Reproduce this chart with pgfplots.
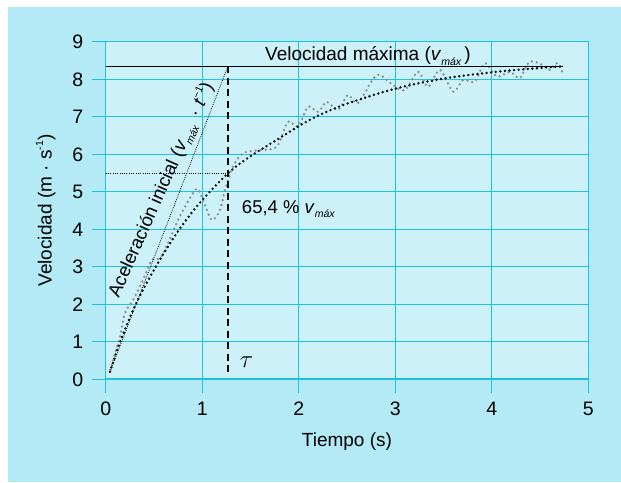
\documentclass[border=0pt]{standalone}
\usepackage{pgfplots}
\pgfplotsset{compat=1.18}
\usepackage{fontspec}
\setmainfont{Liberation Sans}
\definecolor{outerbg}{RGB}{179,234,246}
\definecolor{panel}{RGB}{205,241,249}
\definecolor{gridc}{RGB}{30,192,228}
\definecolor{meas}{RGB}{140,140,140}
\newcommand{\subr}[1]{\raisebox{-0.45ex}{\fontsize{10.5}{10.5}\selectfont\itshape #1}}
\newcommand{\supr}[1]{\raisebox{0.85ex}{\fontsize{10.5}{10.5}\selectfont #1}}
\begin{document}
\begin{tikzpicture}
\fill[white] (-105.7pt,-102.7pt) rectangle (515.3pt,379.3pt);
\fill[outerbg] (-97.7pt,-102.7pt) rectangle (515.3pt,372.3pt);
\begin{axis}[
  anchor=origin, at={(0pt,0pt)},
  x=96.5pt, y=37.5pt,
  xmin=0, xmax=5, ymin=0, ymax=9,
  xtick={0,1,2,3,4,5}, ytick={0,1,2,3,4,5,6,7,8,9},
  xtick pos=bottom, ytick pos=left,
  tick align=outside, major tick length=14pt,
  axis background/.style={fill=panel},
  grid=major,
  grid style={gridc, line width=1.2pt},
  axis line style={gridc, line width=1.2pt},
  tick style={gridc, line width=1.2pt},
  /pgf/number format/assume math mode=true,
  tick label style={font=\fontsize{19.5}{19.5}\selectfont},
  xticklabel style={yshift=-5pt},
  yticklabel style={xshift=-5pt},
  clip=false,
]
\draw[gridc, line width=2.2pt] (axis cs:0,0) -- (axis cs:5,0);
% measured data (grey)
\addplot[meas, line width=2.6pt, line cap=round, dash pattern=on 0pt off 5pt, smooth, tension=0.5] coordinates {
(0.045,0.25) (0.148,1.14) (0.2,1.77) (0.283,2.11) (0.387,2.65) (0.477,3.18) (0.563,3.23) (0.646,3.63) (0.736,4.17) (0.822,4.6) (0.943,5.08) (1.008,4.78) (1.098,4.25) (1.184,4.51) (1.236,5.05) (1.319,5.67) (1.423,6.03) (1.6,6.11) (1.772,6.2) (1.889,6.87) (1.993,6.74) (2.097,7.27) (2.2,7.13) (2.29,7.4) (2.407,7.18) (2.51,7.58) (2.615,7.37) (2.808,8.11) (2.977,7.85) (3.102,7.71) (3.236,8.2) (3.34,7.8) (3.464,8.25) (3.6,7.67) (3.703,7.98) (3.827,7.94) (3.93,8.43) (4.055,8.07) (4.19,8.2) (4.29,8.03) (4.394,8.47) (4.53,8.38) (4.6,8.25) (4.677,8.43) (4.73,8.2)
};
% fitted curve (black)
\addplot[black, line width=2.6pt, line cap=round, dash pattern=on 0pt off 4.6pt, smooth] coordinates {
(0.045,0.2) (0.15,1.0) (0.32,2.05) (0.53,3.05) (0.75,3.95) (0.98,4.72) (1.27,5.5) (1.5,5.95) (1.77,6.38) (2.0,6.75) (2.2,7.03) (2.5,7.35) (3.0,7.75) (3.5,8.02) (4.05,8.2) (4.4,8.28) (4.74,8.35)
};
% vmax line
\addplot[black, line width=1.3pt] coordinates {(0,8.35) (4.74,8.35)};
% initial acceleration line
\addplot[black, line width=0.8pt, dash pattern=on 0.8pt off 1.2pt] coordinates {(0.045,0.2) (1.267,8.35)};
% tau dashed
\addplot[black, line width=1.4pt, dash pattern=on 7pt off 4.5pt] coordinates {(1.267,8.35) (1.267,0.1)};
% 65.4% horizontal dotted
\addplot[black, line width=1pt, dash pattern=on 1pt off 1.3pt] coordinates {(0,5.49) (1.267,5.49)};
% texts
\node[anchor=base west, font=\fontsize{19}{19}\selectfont, inner sep=0pt] at (axis cs:1.65,8.5) {Velocidad máxima (\textit{v}\subr{máx}\,)};
\node[anchor=base west, font=\fontsize{18.5}{18.5}\selectfont, inner sep=0pt] at (axis cs:1.41,4.43) {65,4 \% \textit{v}\subr{máx}};
\node[anchor=center, font=\fontsize{24}{24}\selectfont, inner sep=0pt] at (axis cs:1.46,0.45) {$\tau$};
\node[anchor=base west, rotate=66, font=\fontsize{18.5}{18.5}\selectfont, inner sep=0pt] at (axis cs:0.135,2.15) {Aceleración inicial (\textit{v}\subr{máx}\, · \textit{t}\supr{−1})};
% axis labels
\node[anchor=center, font=\fontsize{19}{19}\selectfont] at (axis cs:2.5,-1.66) {Tiempo (s)};
\node[anchor=center, rotate=90, font=\fontsize{19}{19}\selectfont] at ([xshift=-60pt]axis cs:0,4.5) {Velocidad (m · s\supr{-1})};
\end{axis}
\end{tikzpicture}
\end{document}
